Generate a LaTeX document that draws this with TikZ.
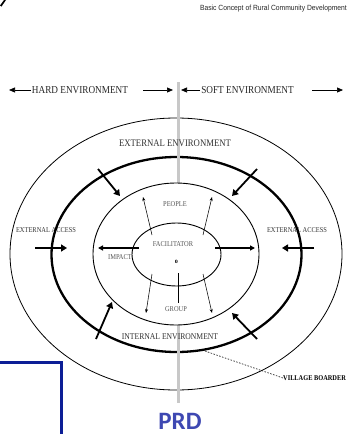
\documentclass[tikz,border=0pt]{standalone}
\usepackage{fontspec}
\usetikzlibrary{arrows.meta,shapes.geometric}
\newfontfamily\dserif[FakeStretch=0.87]{Liberation Serif}
\newfontfamily\hsans[FakeStretch=0.9]{Liberation Sans}
\newfontfamily\prdfont{Carlito}
\definecolor{prdblue}{RGB}{62,72,178}
\definecolor{boxblue}{RGB}{12,30,150}
\definecolor{rodgray}{RGB}{200,200,200}
\definecolor{lbl}{RGB}{50,50,50}
\definecolor{ilbl}{RGB}{85,85,85}
\tikzset{
  ring/.style={draw, ellipse, inner sep=0pt, outer sep=0pt},
  biglabel/.style={font=\dserif\fontsize{10}{12}\selectfont, text=lbl, inner sep=0pt},
  envlabel/.style={font=\dserif\fontsize{10.6}{12}\selectfont, text=black!85, inner sep=0pt},
  smalllabel/.style={font=\dserif\fontsize{7.4}{9}\selectfont, text=ilbl, inner sep=0pt},
  thinarrow/.style={line width=0.7pt, -{Triangle[length=6pt,width=5pt]}},
  heavyarrow/.style={line width=2.6pt, -{Triangle[length=6pt,width=7pt]}},
  midarrow/.style={line width=1.4pt, -{Triangle[length=5pt,width=5pt]}},
  fineline/.style={line width=0.55pt, -{Stealth[length=4pt,width=3pt]}}
}
\begin{document}
\begin{tikzpicture}[x=1pt,y=-1pt]
\useasboundingbox (0,0) rectangle (350,434);
\clip (0,0) rectangle (350,434);
\fill[white] (0,0) rectangle (350,434);

% header
\node[font=\hsans\fontsize{7.5}{9}\selectfont, text=black!85, anchor=east, inner sep=0pt] (header) at (347,9) {Basic Concept of Rural Community Development};
\fill[black] (0,5.5) -- (4,0) -- (6,0) -- (1.5,6.5) -- cycle;

% hard / soft environment
\node[envlabel] (hard) at (80,90) {HARD ENVIRONMENT};
\node[envlabel] (soft) at (247.5,90) {SOFT ENVIRONMENT};
\coordinate (h1) at (31,90); \coordinate (h0) at (9,90);
\coordinate (h2) at (143,90); \coordinate (h3) at (173,90);
\coordinate (s1) at (200,90); \coordinate (s0) at (181,90);
\coordinate (s2) at (312,90); \coordinate (s3) at (343,90);
\draw[thinarrow] (h1) -- (h0);
\draw[thinarrow] (h2) -- (h3);
\draw[thinarrow] (s1) -- (s0);
\draw[thinarrow] (s2) -- (s3);

% outer ellipse
\node[ring, line width=0.8pt, minimum width=332pt, minimum height=272pt] (outer) at (176,254) {};

% external access labels
\node[smalllabel, text=lbl] (eaL) at (46,230) {EXTERNAL ACCESS};
\node[smalllabel, text=lbl] (eaR) at (297,230) {EXTERNAL ACCESS};

% thick village ellipse
\node[ring, line width=2.3pt, minimum width=250pt, minimum height=195pt] (village) at (176.5,254.5) {};

% grey axis
\coordinate (rodtop) at (178,82);
\coordinate (rodbot) at (178,403);
\draw[rodgray, line width=3pt] (rodtop) -- (rodbot);

% middle and inner ellipses
\node[ring, line width=0.9pt, fill=white, minimum width=166pt, minimum height=142pt] (middle) at (176,254) {};
\node[ring, line width=0.9pt, minimum width=89pt, minimum height=63pt] (inner) at (176.5,254.5) {};

\node[biglabel] (extenv) at (175,143) {EXTERNAL ENVIRONMENT};
\node[font=\dserif\fontsize{8.8}{10}\selectfont, text=lbl, inner sep=0pt] (intenv) at (170,337) {INTERNAL ENVIRONMENT};

% inner labels
\node[smalllabel] (people) at (175,204) {PEOPLE};
\node[smalllabel] (facil) at (173,244) {FACILITATOR};
\node[smalllabel] (impact) at (120,257) {IMPACT};
\node[smalllabel] (group) at (176,309) {GROUP};
\node[font=\dserif\bfseries\fontsize{7}{8}\selectfont, inner sep=0pt] (dot) at (176.5,262) {o};

% thin arrows from facilitator
\coordinate (f1) at (152,235); \coordinate (p1) at (143,197);
\coordinate (f2) at (203,235); \coordinate (p2) at (212,197);
\coordinate (f3) at (152,274); \coordinate (g1) at (146,313);
\coordinate (f4) at (203,274); \coordinate (g2) at (212,313);
\coordinate (c1) at (178,273); \coordinate (c2) at (178,303);
\draw[fineline] (f1) -- (p1);
\draw[fineline] (f2) -- (p2);
\draw[fineline] (f3) -- (g1);
\draw[fineline] (f4) -- (g2);
\draw[line width=0.55pt] (c1) -- (c2);

% horizontal arrows
\coordinate (hl0) at (139,248); \coordinate (hl1) at (98,248);
\coordinate (hr0) at (215,248); \coordinate (hr1) at (255,248);
\draw[midarrow] (hl0) -- (hl1);
\draw[midarrow] (hr0) -- (hr1);

% external access arrows
\coordinate (el0) at (35,248); \coordinate (el1) at (67,248);
\coordinate (er0) at (314,248); \coordinate (er1) at (282,248);
\draw[heavyarrow] (el0) -- (el1);
\draw[heavyarrow] (er0) -- (er1);

% diagonal arrows across village border
\coordinate (d1a) at (98,169); \coordinate (d1b) at (120,196);
\coordinate (d2a) at (257,169); \coordinate (d2b) at (232,196);
\coordinate (d3a) at (96,339); \coordinate (d3b) at (112,302);
\coordinate (d4a) at (257,339); \coordinate (d4b) at (232,313);
\draw[heavyarrow, line width=1.8pt] (d1a) -- (d1b);
\draw[heavyarrow, line width=1.8pt] (d2a) -- (d2b);
\draw[heavyarrow, line width=1.8pt] (d3a) -- (d3b);
\draw[heavyarrow, line width=1.8pt] (d4a) -- (d4b);

% village boarder label
\coordinate (vb0) at (205,351);
\node[font=\dserif\bfseries\fontsize{7.3}{9}\selectfont, anchor=west, inner sep=0pt] (vb) at (283,378) {VILLAGE BOARDER};
\draw[line width=0.6pt, dash pattern=on 1.5pt off 1.5pt] (vb0) -- (vb.west);

% PRD
\node[font=\prdfont\bfseries\fontsize{25}{27}\selectfont, text=prdblue, anchor=base, inner sep=0pt, text depth=0pt] (prd) at (180,429) {PRD};

% blue box
\draw[boxblue, line width=3pt] (-5,362) -- (61,362) -- (61,440);
\end{tikzpicture}
\end{document}
